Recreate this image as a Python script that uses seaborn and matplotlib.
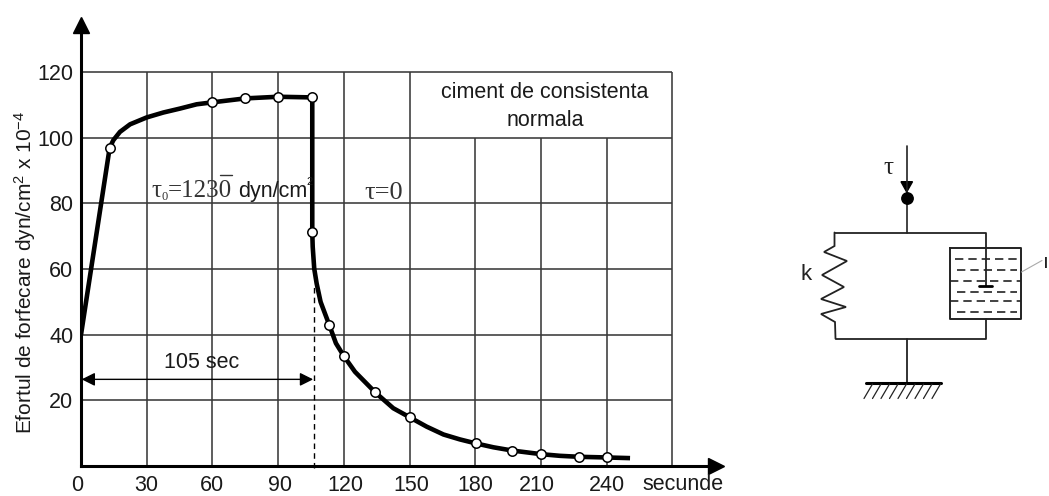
import numpy as np
import pandas as pd
import matplotlib
matplotlib.use("Agg")
import matplotlib.pyplot as plt
from matplotlib.transforms import ScaledTranslation
import seaborn as sns

curve_t = [0, 13.1, 14.8, 17.8, 22.4, 30, 37.6, 45.2, 52.8, 60, 75, 90, 105.6,
           105.6, 105.8, 106.5, 107.6, 109.4, 113.4, 116.4, 120.1, 125.1, 134.4, 142.6, 150.2,
           157.8, 165.5, 173, 180.2, 188.3, 197, 210.2, 218.7, 227.5, 240.1, 250.7]
curve_tau = [40, 97, 99.3, 101.8, 104.1, 106.2, 107.7, 108.9, 110.2, 110.8, 112, 112.5, 112.3,
             71.2, 66.8, 60.1, 55.6, 50, 42.9, 37.4, 33.4, 28.7, 22.4, 17.6, 14.8,
             12, 9.6, 8.1, 6.9, 5.7, 4.7, 3.6, 3.1, 2.8, 2.6, 2.4]

# open circles
point_t = [13.1, 60, 75, 90, 105.6, 105.6, 113.4, 120.1, 134.4, 150.2, 180.2, 197, 210.2, 227.5, 240.1]
point_tau = [97, 110.8, 112, 112.5, 112.3, 71.2, 42.9, 33.4, 22.4, 14.8, 6.9, 4.7, 3.6, 2.8, 2.6]

x_ticks = [0, 30, 60, 90, 120, 150, 180, 210, 240]
y_ticks = [20, 40, 60, 80, 100, 120]
x_grid_full = [30, 60, 90, 120, 150, 270]
x_grid_short = [180, 210, 240]
# the labels do not sit exactly under their lines in the original
x_label_shift = [-4, 0, 0, 2, 2, 2, 0, -4, 0]

# right hand schematic, in picture pixels
spring_x = [834.5, 834.5, 824, 847, 822, 844, 821, 846, 821, 835, 835.5]
spring_y = [232.5, 246, 252, 261, 275, 287, 299, 307, 314, 322, 338.7]
frame_x = [834.5, 985.7, 985.7]
frame_y = [232.5, 232.5, 286]
bottom_x = [835.5, 985.7, 985.7]
bottom_y = [338.7, 338.7, 319.3]
box_x = [950, 1020.7, 1020.7, 950, 950]
box_y = [248.3, 248.3, 319.3, 319.3, 248.3]
liquid_y = [259, 270, 281, 292.3, 301, 312.3]
liquid_x0 = [955, 957, 950, 957, 950, 957]
liquid_x1 = [1020.7, 1017, 1020.7, 1017, 1020.7, 1017]
hatch_x = [872.5, 881, 889.5, 898, 906.5, 915, 923.5, 932, 940.5]

sns.set_theme(style="white")
plt.rcParams["font.family"] = ["Liberation Sans", "DejaVu Sans"]
plt.rcParams["mathtext.default"] = "regular"

fig = plt.figure(figsize=(10.49, 4.96), dpi=100)
ax = fig.add_axes([81 / 1049, 30 / 496, 643 / 1049, 449 / 496])
ax.set_xlim(0, 293.6)
ax.set_ylim(0, 136.8)
ax.patch.set_alpha(0)

grid_c = "#3a3a3a"
ax.vlines(x_grid_full, 0, 120, color=grid_c, lw=1.15, zorder=1)
ax.vlines(x_grid_short, 0, 100, color=grid_c, lw=1.15, zorder=1)
ax.hlines(y_ticks, 0, 270, color=grid_c, lw=1.15, zorder=1)

df = pd.DataFrame({"t": curve_t, "tau": curve_tau})
pts = pd.DataFrame({"t": point_t, "tau": point_tau})
sns.lineplot(data=df, x="t", y="tau", sort=False, estimator=None, color="black", lw=3.3, ax=ax, zorder=3,
             solid_joinstyle="round", solid_capstyle="butt")
sns.scatterplot(data=pts, x="t", y="tau", color="white", edgecolor="black", linewidth=1.1, s=46, ax=ax,
                zorder=4, clip_on=False)

ax.set_xlabel("")
ax.set_ylabel("")
ax.set_xticks(x_ticks)
ax.set_yticks(y_ticks)
ax.set_xticklabels([str(v) for v in x_ticks])
ax.tick_params(axis="both", length=0, labelsize=15.5, colors="#1a1a1a")
ax.tick_params(axis="x", pad=6.5)
ax.tick_params(axis="y", pad=5.5)
for lab, shift in zip(ax.get_xticklabels(), x_label_shift):
    lab.set_transform(lab.get_transform() + ScaledTranslation(shift / 100, 0, fig.dpi_scale_trans))

for name in ["top", "right"]:
    ax.spines[name].set_visible(False)
for name in ["left", "bottom"]:
    ax.spines[name].set_linewidth(2.2)
    ax.spines[name].set_color("black")
ax.spines["left"].set_bounds(0, 132)
ax.spines["bottom"].set_bounds(0, 288)
ax.plot([290], [0], marker=">", ms=11.5, color="black", clip_on=False, zorder=5)
ax.plot([0], [134.4], marker="^", ms=11.5, color="black", clip_on=False, zorder=5)

# 105 sec span
ax.vlines([106.2], -0.6, 55, color="black", lw=1.0, linestyles=(0, (4, 3)), zorder=2, clip_on=False)
ax.annotate("", xy=(0.3, 26.4), xytext=(106, 26.4),
            arrowprops=dict(arrowstyle="<|-|>", color="black", lw=1.0, shrinkA=0, shrinkB=0, mutation_scale=20))

# overlay in picture pixels for the loose texts and the schematic
ov = fig.add_axes([0, 0, 1, 1])
ov.set_xlim(0, 1049)
ov.set_ylim(496, 0)
ov.axis("off")
ov.patch.set_alpha(0)

tc = "#1a1a1a"
ov.text(25, 272, "Efortul de forfecare dyn/cm$^{2}$ x 10$^{-4}$", rotation=90, ha="center", va="center",
        fontsize=15, color=tc)
ov.text(202, 363, "105 sec", ha="center", va="center", fontsize=15.5, color=tc)
ov.text(545, 92, "ciment de consistenta", ha="center", va="center", fontsize=15.5, color=tc)
ov.text(545, 121, "normala", ha="center", va="center", fontsize=15.5, color=tc)
ov.text(683, 485, "secunde", ha="center", va="center", fontsize=15.5, color=tc)

serif = "Liberation Serif"
ov.text(151, 197, "\u03c4", family=serif, fontsize=18, color="#333333", va="baseline")
ov.text(162, 200, "0", family=serif, fontsize=9, color="#333333", va="baseline")
ov.text(168, 197, "=1230", family=serif, fontsize=18, color="#333333", va="baseline")
ov.plot([220, 232], [175, 175], color="#333333", lw=1.0)
ov.text(238, 197, "dyn/cm", fontsize=15.5, color=tc, va="baseline")
ov.text(306, 185, "2", fontsize=8, color=tc, va="baseline")
ov.text(364, 199, "\u03c4=0", family=serif, fontsize=19, color="#333333", va="baseline")

sc = "#222222"
ov.plot([906.7, 906.7], [146, 232.5], color=sc, lw=1.2)
ov.fill([901, 912.5, 906.7], [181.7, 181.7, 192], color="black")
ov.plot([906.7], [198], marker="o", ms=8.2, color="black")
ov.plot(frame_x, frame_y, color=sc, lw=1.3)
ov.plot(bottom_x, bottom_y, color=sc, lw=1.3)
ov.plot(spring_x, spring_y, color=sc, lw=1.3, solid_joinstyle="miter")
ov.plot(box_x, box_y, color=sc, lw=1.4)
ov.plot([979, 992], [286, 286], color="black", lw=2.0)
for yy, x0, x1 in zip(liquid_y, liquid_x0, liquid_x1):
    ov.plot([x0, x1], [yy, yy], color=sc, lw=1.2, linestyle=(0, (5, 3)))
ov.plot([1021.5, 1042], [272, 260.5], color="#aaaaaa", lw=0.8)
ov.plot([907.3, 907.3], [338.7, 382], color=sc, lw=1.3)
ov.plot([866, 941], [383, 383], color="black", lw=2.2)
for hx in hatch_x:
    ov.plot([hx, hx - 8.5], [384, 398.5], color=sc, lw=0.9)
ov.text(800, 280, "k", ha="left", va="baseline", fontsize=16, color=sc)
ov.text(883, 174, "\u03c4", family=serif, ha="left", va="baseline", fontsize=18, color=sc)
ov.text(1043, 268, "\u0131", ha="left", va="baseline", fontsize=15, color=sc)

fig.savefig("out.png", dpi=100, facecolor="white")
